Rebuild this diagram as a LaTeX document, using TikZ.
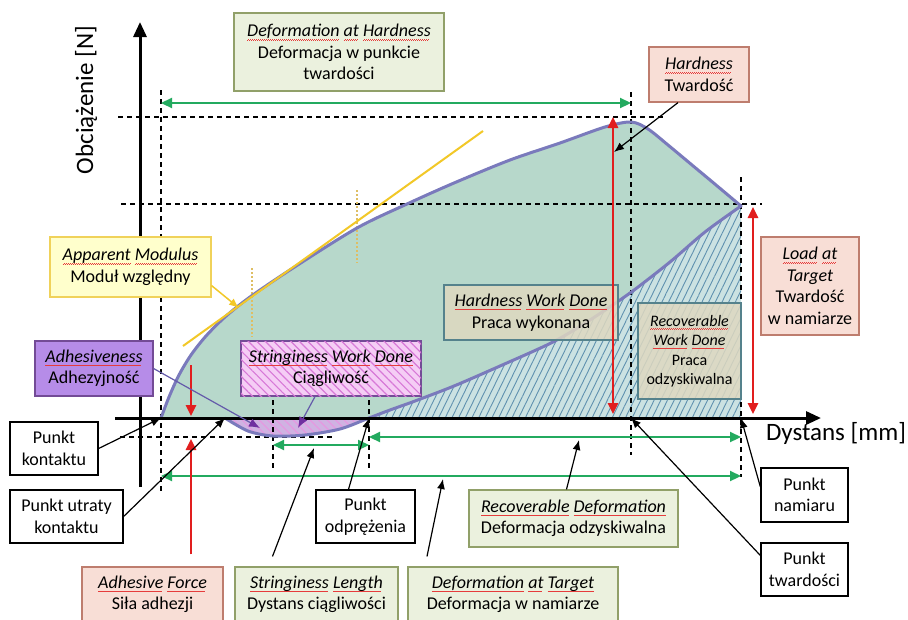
\documentclass[tikz,border=0pt]{standalone}
\usepackage{fontspec}
\setmainfont{Carlito}
\usetikzlibrary{arrows.meta,patterns.meta}

\definecolor{areateal}{RGB}{183,216,203}
\definecolor{hatchfill}{RGB}{203,226,226}
\definecolor{hatchline}{RGB}{95,145,175}
\definecolor{curveblue}{RGB}{122,122,188}
\definecolor{adfill}{RGB}{208,178,226}
\definecolor{adline}{RGB}{232,150,225}
\definecolor{dimgreen}{RGB}{35,170,95}
\definecolor{forcered}{RGB}{225,30,30}
\definecolor{tanyellow}{RGB}{242,200,40}
\definecolor{dotyellow}{RGB}{222,190,100}
\definecolor{greenfill}{RGB}{235,241,222}
\definecolor{greenline}{RGB}{145,160,105}
\definecolor{pinkfill}{RGB}{248,222,214}
\definecolor{pinkline}{RGB}{190,125,110}
\definecolor{yellowfill}{RGB}{255,255,204}
\definecolor{yellowline}{RGB}{240,210,90}
\definecolor{tanfill}{RGB}{222,216,192}
\definecolor{tanline}{RGB}{85,130,140}
\definecolor{purplefill}{RGB}{182,140,232}
\definecolor{purpleline}{RGB}{115,75,150}
\definecolor{stringfill}{RGB}{245,205,245}
\definecolor{stringline}{RGB}{215,120,215}
\definecolor{adpointer}{RGB}{100,90,170}
\definecolor{arrowpurple}{RGB}{112,48,160}
\definecolor{spellred}{RGB}{230,60,60}

% wavy red underline under the English words
\newsavebox\splbox
\newcommand\spl[1]{\sbox\splbox{#1}\rlap{\textcolor{spellred}{\hbox to \wd\splbox{\leaders\hbox to 2pt{\rule[-3.6pt]{1pt}{0.7pt}\rule[-2.9pt]{1pt}{0.7pt}}\hfill}}}\usebox\splbox}

\begin{document}
\begin{tikzpicture}[x=1pt,y=-1pt,
        bigtip/.tip={Triangle[length=11pt,width=10pt]},
        box/.style={draw,line width=1.2pt,align=center,inner sep=1pt,font=\fontsize{18}{21.5}\selectfont},
        greenbox/.style={box,fill=greenfill,draw=greenline},
        pinkbox/.style={box,fill=pinkfill,draw=pinkline},
        tanbox/.style={box,fill=tanfill,draw=tanline,fill opacity=0.85,text opacity=1},
        pointbox/.style={box,fill=white,draw=black},
        guide/.style={line width=1.2pt,dash pattern=on 5pt off 4pt},
        dim/.style={dimgreen,line width=2.2pt,bigtip-bigtip},
        force/.style={forcered,line width=2.5pt,-bigtip},
        pointer/.style={line width=1.2pt,-{Latex[length=10pt,width=8pt]}},
        adarrow/.style={adpointer,line width=1.2pt,-{Latex[length=11pt,width=9pt,color=arrowpurple]}}]

    \path[fill=white,use as bounding box] (0,0) rectangle (908,619);

    % Points on the curve
    \coordinate (O) at (140,418);
    \coordinate (contact) at (161,418);
    \coordinate (loss) at (225,418);
    \coordinate (minpt) at (273,436);
    \coordinate (release) at (369,418);
    \coordinate (peak) at (631,122);
    \coordinate (target) at (741,206);

    % Areas
    \path[fill=areateal] plot[smooth] coordinates {(161,418) (169,397) (179,375) (191,355) (206,336) (225,317) (250,297) (293,268) (357,228) (407,204) (454,183) (510,160) (560,143) (605,127) (631,122) (648,129) (668,145) (692,165) (716,185) (741,206)}
        -- plot[smooth] coordinates {(741,206) (705,232) (670,262) (630,293) (590,320) (553,342) (500,366) (454,386) (415,401) (390,410) (369,418) (340,429) (305,435) (273,436) (248,431) (225,418)} -- cycle;
    \path[fill=hatchfill,postaction={pattern={Lines[angle=64,distance=6pt,line width=0.9pt]},pattern color=hatchline}]
        (target |- O) -- plot[smooth] coordinates {(741,206) (705,232) (670,262) (630,293) (590,320) (553,342) (500,366) (454,386) (415,401) (390,410) (369,418)} -- cycle;
    \path[fill=adfill,postaction={pattern={Lines[angle=-45,distance=6pt,line width=1pt]},pattern color=adline}]
        plot[smooth] coordinates {(369,418) (340,429) (305,435) (273,436) (248,431) (225,418)} -- cycle;

    % Guide lines
    \draw[guide] (161,90) -- (161,493);
    \draw[guide] (631,92) -- (631,455);
    \draw[guide] (741,177) -- (741,477);
    \draw[guide] (273,400) -- (273,468);
    \draw[guide] (369,400) -- (369,468);
    \draw[guide] (118,117) -- (664,117);
    \draw[guide] (121,204) -- (762,204);
    \draw[guide] (120,437) -- (333,437);
    \draw[dotyellow,line width=2pt,dash pattern=on 2pt off 2pt] (252,268) -- (252,337);
    \draw[dotyellow,line width=2pt,dash pattern=on 2pt off 2pt] (357,190) -- (357,263);

    % Curve
    \draw[curveblue,line width=3pt,line join=round] plot[smooth] coordinates {(161,418) (169,397) (179,375) (191,355) (206,336) (225,317) (250,297) (293,268) (357,228) (407,204) (454,183) (510,160) (560,143) (605,127) (631,122) (648,129) (668,145) (692,165) (716,185) (741,206)}
        -- plot[smooth] coordinates {(741,206) (705,232) (670,262) (630,293) (590,320) (553,342) (500,366) (454,386) (415,401) (390,410) (369,418) (340,429) (305,435) (273,436) (248,431) (225,418)};

    % Tangent
    \coordinate (tan1) at (183,346);
    \coordinate (tan2) at (483,131);
    \draw[tanyellow,line width=2pt] (tan1) -- (tan2);

    % Axes
    \coordinate (ybot) at (140,487);
    \coordinate (ytop) at (140,22);
    \coordinate (xleft) at (115,418);
    \coordinate (xright) at (821,418);
    \draw[line width=3pt,-{Triangle[length=15pt,width=13pt]}] (ybot) -- (ytop);
    \draw[line width=3pt,-{Triangle[length=15pt,width=13pt]}] (xleft) -- (xright);
    \node[rotate=90,font=\fontsize{25}{30}\selectfont] (ylabel) at (86,100) {Obciążenie [N]};
    \node[font=\fontsize{25}{30}\selectfont] (xlabel) at (836,433) {Dystans [mm]};

    % Distances
    \draw[dim] (contact |- 0,103) -- (peak |- 0,103);
    \draw[dim] (minpt |- 0,445) -- (release |- 0,445);
    \draw[dim] (release |- 0,437) -- (target |- 0,437);
    \draw[dim] (contact |- 0,476) -- (target |- 0,476);

    % Boxes
    \node[greenbox,minimum width=210pt,minimum height=78pt] (defhard) at (339,52) {\textit{\spl{Deformation} \spl{at} \spl{Hardness}}\\Deformacja w punkcie\\twardości};
    \node[pinkbox,minimum width=100pt,minimum height=55pt] (hard) at (699,74.5) {\textit{\spl{Hardness}}\\Twardość};
    \node[box,fill=yellowfill,draw=yellowline,minimum width=161pt,minimum height=60pt] (appmod) at (130.5,267) {\textit{\spl{Apparent} \spl{Modulus}}\\Moduł względny};
    \node[pinkbox,minimum width=98pt,minimum height=98pt] (loadtarget) at (810,286) {\textit{\spl{Load} \spl{at}}\\\textit{Target}\\Twardość\\w namiarze};
    \node[tanbox,minimum width=174pt,minimum height=55pt] (hardwork) at (531,312.5) {\textit{\spl{Hardness} \spl{Work} \spl{Done}}\\Praca wykonana};
    \node[tanbox,font=\fontsize{16}{19.5}\selectfont,minimum width=103pt,minimum height=96pt] (recwork) at (689.5,351) {\textit{\spl{Recoverable}}\\\textit{\spl{Work} \spl{Done}}\\Praca\\odzyskiwalna};
    \node[box,fill=purplefill,draw=purpleline,minimum width=118pt,minimum height=55pt] (adhes) at (94,368.5) {\textit{\spl{Adhesiveness}}\\Adhezyjność};
    \node[box,fill=stringfill,draw=purpleline,postaction={pattern={Lines[angle=-45,distance=6pt,line width=1.2pt]},pattern color=stringline},minimum width=180pt,minimum height=55pt] (strwork) at (331,368.5) {\textit{\spl{Stringiness} \spl{Work} \spl{Done}}\\Ciągliwość};
    \node[pointbox,minimum width=88pt,minimum height=53pt] (kontakt) at (54,448.5) {Punkt\\kontaktu};
    \node[pointbox,minimum width=113pt,minimum height=53pt] (utraty) at (66.5,516.5) {Punkt utraty\\kontaktu};
    \node[pointbox,minimum width=99pt,minimum height=53pt] (odpr) at (365.5,516.5) {Punkt\\odprężenia};
    \node[greenbox,minimum width=209pt,minimum height=57pt] (recdef) at (573.5,518.5) {\textit{\spl{Recoverable} \spl{Deformation}}\\Deformacja odzyskiwalna};
    \node[pointbox,minimum width=87pt,minimum height=54pt] (namiar) at (804.5,495) {Punkt\\namiaru};
    \node[pointbox,minimum width=87pt,minimum height=53pt] (twardosci) at (804.5,569.5) {Punkt\\twardości};
    \node[pinkbox,minimum width=141pt,minimum height=55pt] (adforce) at (152.5,594.5) {\textit{\spl{Adhesive} \spl{Force}}\\Siła adhezji};
    \node[greenbox,minimum width=163pt,minimum height=55pt] (strlen) at (316.5,594.5) {\textit{\spl{Stringiness} \spl{Length}}\\Dystans ciągliwości};
    \node[greenbox,minimum width=210pt,minimum height=55pt] (deftarget) at (513,594.5) {\textit{\spl{Deformation} \spl{at} \spl{Target}}\\Deformacja w namiarze};

    % Forces
    \coordinate (htop) at (613,117);
    \coordinate (hbot) at (613,414);
    \coordinate (ltop) at (753,207);
    \coordinate (lbot) at (753,414);
    \coordinate (adtop) at (191,365);
    \coordinate (adbot) at (191,416);
    \coordinate (admin) at (191,439);
    \draw[force,bigtip-bigtip] (hbot) -- (htop);
    \draw[force,bigtip-bigtip] (lbot) -- (ltop);
    \draw[force] (adtop) -- (adbot);
    \draw[force] ([shift={(38.5pt,12pt)}]adforce.north) -- (admin);

    % Pointers
    \coordinate (hardtip) at (614,152);
    \coordinate (amtip) at (239,308);
    \coordinate (adtip) at (260,428);
    \coordinate (swtip) at (298,428);
    \coordinate (sltip) at (314,448);
    \coordinate (dttip) at (443,479);
    \coordinate (rdtip) at (579,440);
    \draw[pointer] ([xshift=-21pt]hard.south) -- (hardtip);
    \draw[tanyellow,line width=1.5pt,-{Latex[length=10pt,width=8pt]}] ([yshift=12pt]appmod.south east) -- (amtip);
    \draw[adarrow] (adhes.east) -- (adtip);
    \draw[adarrow] ([xshift=-16pt]strwork.south) -- (swtip);
    \draw[pointer] (kontakt.east) -- (contact);
    \draw[pointer] (utraty.east) -- (loss);
    \draw[pointer] ([xshift=-17pt]odpr.north) -- (release);
    \draw[pointer] ([yshift=8pt]namiar.west) -- (target |- O);
    \draw[pointer] ([yshift=14pt]twardosci.west) -- (peak |- O);
    \draw[pointer] ([shift={(-44pt,10pt)}]strlen.north) -- (sltip);
    \draw[pointer] ([shift={(-86pt,10pt)}]deftarget.north) -- (dttip);
    \draw[pointer] ([xshift=-7pt]recdef.north) -- (rdtip);

\end{tikzpicture}
\end{document}
